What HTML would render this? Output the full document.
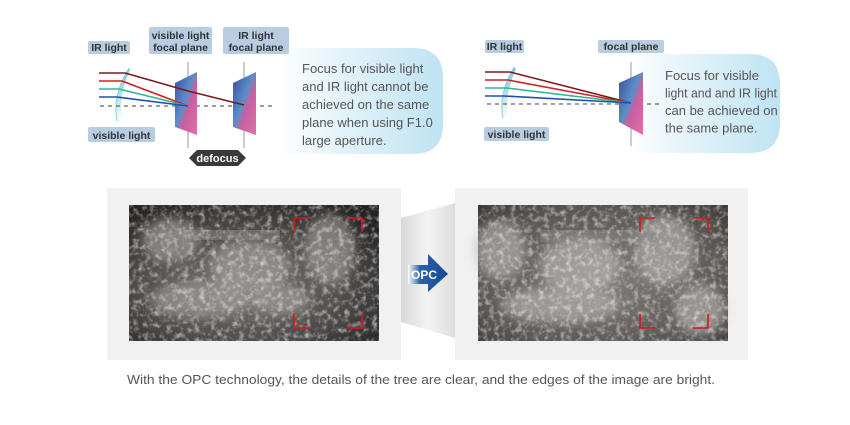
<!DOCTYPE html>
<html><head><meta charset="utf-8"><style>
html,body{margin:0;padding:0;background:#fff;width:850px;height:425px;overflow:hidden}
svg{display:block}
text{font-family:"Liberation Sans",sans-serif}
</style></head><body>
<svg width="850" height="425" viewBox="0 0 850 425" xmlns="http://www.w3.org/2000/svg">
<defs>
<linearGradient id="call" x1="0" x2="1" y1="0" y2="0"><stop offset="0" stop-color="#fff"/><stop offset="0.35" stop-color="#e6f4fa"/><stop offset="1" stop-color="#bfe3f2"/></linearGradient>
<linearGradient id="plane" x1="0" x2="1" y1="0" y2="1"><stop offset="0" stop-color="#3a4aa0"/><stop offset="0.45" stop-color="#5a8fc8"/><stop offset="0.6" stop-color="#c860a0"/><stop offset="1" stop-color="#e070a8"/></linearGradient>
<linearGradient id="lens" x1="0" x2="0" y1="0" y2="1"><stop offset="0" stop-color="#6cc3d8"/><stop offset="0.7" stop-color="#c8e8f0"/><stop offset="1" stop-color="#fff"/></linearGradient>
<linearGradient id="conn" x1="0" x2="1"><stop offset="0" stop-color="#d8d8d8"/><stop offset="0.5" stop-color="#f4f4f4"/><stop offset="1" stop-color="#dcdcdc"/></linearGradient>
<linearGradient id="opc" x1="0" x2="1"><stop offset="0" stop-color="#fff"/><stop offset="0.3" stop-color="#2a62a8"/><stop offset="1" stop-color="#174a8c"/></linearGradient>
<radialGradient id="vig" cx="0.45" cy="0.6" r="0.7"><stop offset="0" stop-color="#7a7672"/><stop offset="0.6" stop-color="#4e4b49"/><stop offset="1" stop-color="#262422"/></radialGradient>
<radialGradient id="vig2" cx="0.5" cy="0.55" r="0.75"><stop offset="0" stop-color="#827e7a"/><stop offset="0.7" stop-color="#5a5653"/><stop offset="1" stop-color="#3a3735"/></radialGradient>
<filter id="tex" x="0" y="0" width="1" height="1"><feTurbulence type="fractalNoise" baseFrequency="0.18" numOctaves="3" seed="4"/><feColorMatrix type="matrix" values="0 0 0 0 1  0 0 0 0 1  0 0 0 0 1  2.2 0 0 0 -1.0"/><feComposite in2="SourceGraphic" operator="in"/></filter>
<filter id="bl"><feGaussianBlur stdDeviation="5"/></filter>
</defs>

<path d="M277,48 H413 Q443,48 443,78 V124 Q443,154 413,154 H277 Z" fill="url(#call)"/>
<line x1="188" y1="62" x2="188" y2="148" stroke="#999" stroke-width="1"/>
<line x1="244" y1="62" x2="244" y2="148" stroke="#999" stroke-width="1"/>
<path d="M129,68 Q112,95 117,121 L122,121 Q118,95 130,70 Z" fill="url(#lens)" opacity=".9"/>
<path d="M129,68 Q112,95 117,121" fill="none" stroke="#8ccfe0" stroke-width="1"/>
<line x1="100" y1="106" x2="275" y2="106" stroke="#666" stroke-width="1.2" stroke-dasharray="4,4"/>
<polygon points="175,83 197,72 197,135 175,127" fill="url(#plane)"/>
<polygon points="233,83 256,72 256,135 233,127" fill="url(#plane)"/>
<g fill="none" stroke-width="1.6">
<polyline points="99,73 125,73 188,91 244,105" stroke="#7a1a1a"/>
<polyline points="99,81 122,81 188,106" stroke="#d42020"/>
<polyline points="99,89 119,89 188,106" stroke="#30b890"/>
<polyline points="99,97 117,97 188,106" stroke="#1e50b0"/>
</g>
<g fill="#b8cce2">
<rect x="88" y="41" width="42" height="13" rx="2"/>
<rect x="149" y="27" width="63" height="27" rx="2"/>
<rect x="223" y="27" width="66" height="27" rx="2"/>
<rect x="88" y="127" width="67" height="15" rx="2"/>
</g>
<g font-size="10.5" font-weight="bold" fill="#333" text-anchor="middle">
<text x="109" y="51">IR light</text>
<text x="180.5" y="39">visible light</text><text x="180.5" y="51">focal plane</text>
<text x="256" y="39">IR light</text><text x="256" y="51">focal plane</text>
<text x="121.5" y="139">visible light</text>
</g>
<polygon points="189,158 197,150 238,150 246,158 238,166 197,166" fill="#3a3a3a"/>
<text x="217.5" y="162" font-size="11" font-weight="bold" fill="#fff" text-anchor="middle">defocus</text>
<g font-size="13" fill="#555">
<text x="302" y="73">Focus for visible light</text>
<text x="302" y="91">and IR light cannot be</text>
<text x="302" y="109">achieved on the same</text>
<text x="302" y="127">plane when using F1.0</text>
<text x="302" y="145">large aperture.</text>
</g>

<path d="M630,54 H750 Q780,54 780,84 V123 Q780,153 750,153 H630 Z" fill="url(#call)"/>
<line x1="631" y1="62" x2="631" y2="146" stroke="#999" stroke-width="1"/>
<path d="M514,67 Q498,95 503,118 L508,118 Q504,95 516,69 Z" fill="url(#lens)" opacity=".9"/>
<path d="M514,67 Q498,95 503,118" fill="none" stroke="#8ccfe0" stroke-width="1"/>
<line x1="487" y1="104" x2="662" y2="104" stroke="#666" stroke-width="1.2" stroke-dasharray="4,4"/>
<polygon points="619,83 643,72 643,135 619,122" fill="url(#plane)"/>
<g fill="none" stroke-width="1.6">
<polyline points="485,72 510,72 631,103" stroke="#7a1a1a"/>
<polyline points="485,80 508,80 631,103" stroke="#d42020"/>
<polyline points="485,88 506,88 631,103" stroke="#30b890"/>
<polyline points="485,96 504,96 631,103" stroke="#1e50b0"/>
</g>
<g fill="#b8cce2">
<rect x="485" y="40" width="39" height="13" rx="2"/>
<rect x="598" y="40" width="66" height="13" rx="2"/>
<rect x="484" y="127" width="65" height="14" rx="2"/>
</g>
<g font-size="10.5" font-weight="bold" fill="#333" text-anchor="middle">
<text x="504.5" y="50">IR light</text>
<text x="631" y="50">focal plane</text>
<text x="516.5" y="138">visible light</text>
</g>
<g font-size="13" fill="#555">
<text x="665" y="80">Focus for visible</text>
<text x="665" y="97.5" textLength="112" lengthAdjust="spacingAndGlyphs">light and and IR light</text>
<text x="665" y="115">can be achieved on</text>
<text x="665" y="132.5">the same plane.</text>
</g>

<rect x="107" y="188" width="294" height="172" fill="#f1f1f1"/>
<rect x="455" y="188" width="293" height="172" fill="#f1f1f1"/>
<polygon points="401,218 455,203 455,338 401,322" fill="url(#conn)"/>

<rect x="129" y="205" width="250" height="136" fill="url(#vig)"/>
<g filter="url(#bl)" fill="#a8a4a0" opacity=".6">
<ellipse cx="170" cy="240" rx="28" ry="22"/><ellipse cx="250" cy="265" rx="40" ry="25"/>
<ellipse cx="330" cy="250" rx="25" ry="35"/><ellipse cx="200" cy="300" rx="50" ry="18"/>
<ellipse cx="280" cy="300" rx="30" ry="15"/>
</g>
<rect x="160" y="230" width="120" height="10" fill="#8a8784" opacity=".5"/>
<rect x="129" y="205" width="250" height="136" fill="#000" filter="url(#tex)" opacity=".6"/>
<g stroke="#d41a1a" stroke-width="1.6" fill="none">
<polyline points="294,232 294,218 309,218"/><polyline points="347,218 362,218 362,232"/>
<polyline points="294,314 294,328 309,328"/><polyline points="347,328 362,328 362,314"/>
</g>

<rect x="478" y="205" width="250" height="136" fill="url(#vig2)"/>
<g filter="url(#bl)" fill="#bcb8b4" opacity=".6">
<ellipse cx="500" cy="250" rx="25" ry="30"/><ellipse cx="580" cy="265" rx="40" ry="28"/>
<ellipse cx="665" cy="250" rx="30" ry="35"/><ellipse cx="560" cy="305" rx="60" ry="18"/>
<ellipse cx="700" cy="310" rx="25" ry="25"/>
</g>
<rect x="540" y="230" width="120" height="12" fill="#8a8784" opacity=".5"/>
<rect x="478" y="205" width="250" height="136" fill="#000" filter="url(#tex)" opacity=".6"/>
<g stroke="#d41a1a" stroke-width="1.6" fill="none">
<polyline points="640,232 640,218 655,218"/><polyline points="693,218 708,218 708,232"/>
<polyline points="640,314 640,328 655,328"/><polyline points="693,328 708,328 708,314"/>
</g>

<polygon points="408,265 428,265 428,254 448,274 428,292 428,284 408,284" fill="url(#opc)"/>
<text x="424" y="279" font-size="12" font-weight="bold" fill="#fff" text-anchor="middle">OPC</text>

<text x="127" y="384" font-size="13" fill="#555" textLength="588" lengthAdjust="spacingAndGlyphs">With the OPC technology, the details of the tree are clear, and the edges of the image are bright.</text>
</svg>
</body></html>
